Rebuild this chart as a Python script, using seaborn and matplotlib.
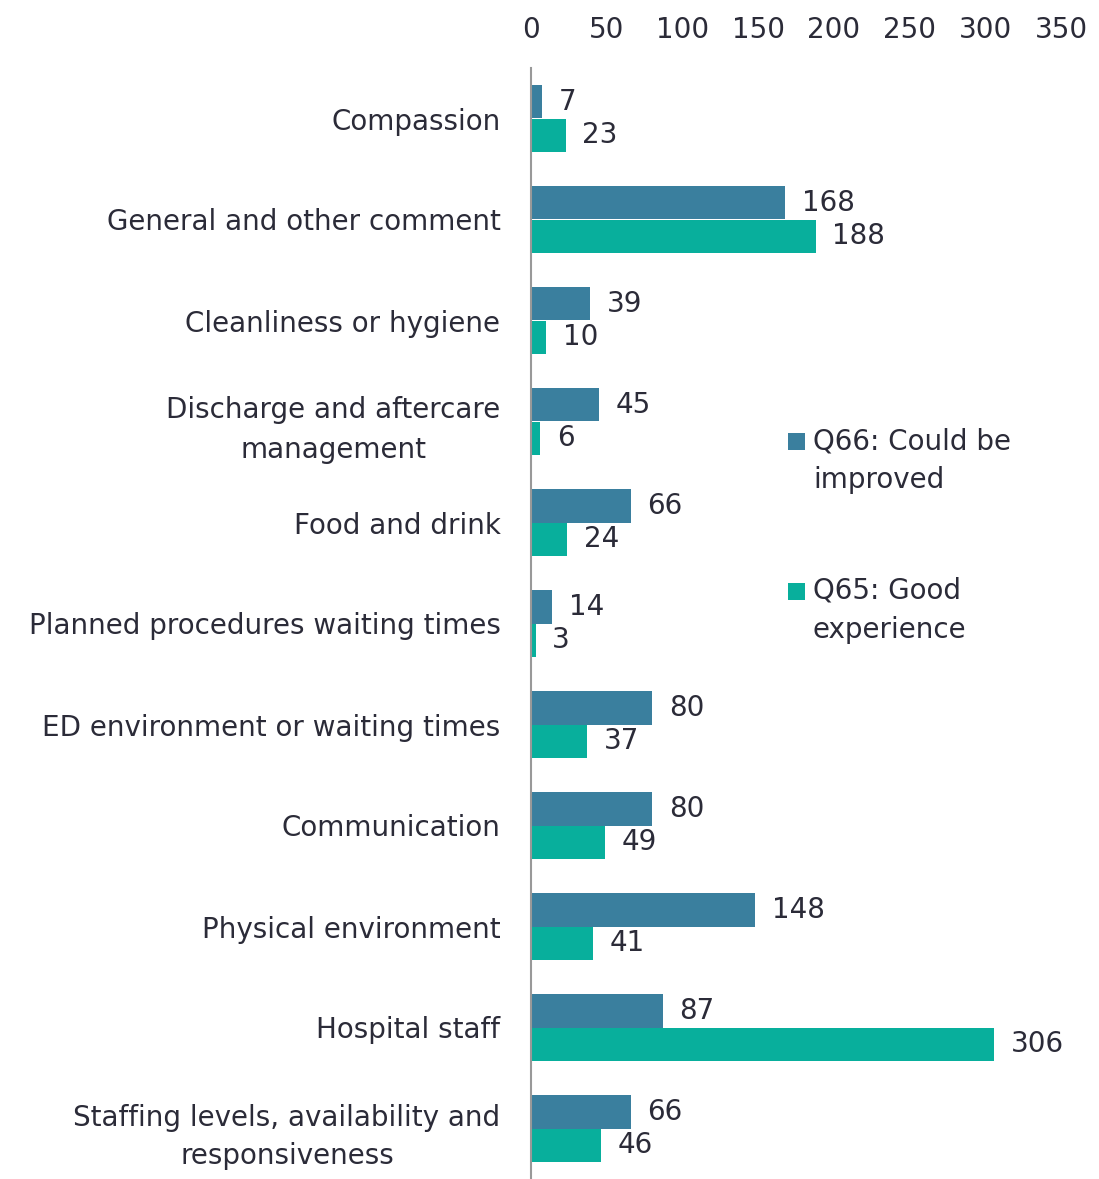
import matplotlib
matplotlib.use("Agg")
import matplotlib.pyplot as plt
import seaborn as sns
import pandas as pd
from matplotlib.patches import Rectangle

categories = [
    "Compassion",
    "General and other comment",
    "Cleanliness or hygiene",
    "Discharge and aftercare\nmanagement",
    "Food and drink",
    "Planned procedures waiting times",
    "ED environment or waiting times",
    "Communication",
    "Physical environment",
    "Hospital staff",
    "Staffing levels, availability and\nresponsiveness",
]
could_be_improved = [7, 168, 39, 45, 66, 14, 80, 80, 148, 87, 66]
good_experience = [23, 188, 10, 6, 24, 3, 37, 49, 41, 306, 46]
series_names = ["Q66: Could be\nimproved", "Q65: Good\nexperience"]
x_ticks = [0, 50, 100, 150, 200, 250, 300, 350]

colors = ["#3A7F9E", "#08AF9C"]
text_color = "#2B2B38"
FS = 20

df = pd.DataFrame({
    "category": categories * 2,
    "value": could_be_improved + good_experience,
    "series": [series_names[0]] * len(categories) + [series_names[1]] * len(categories),
})

sns.set_theme(style="white")
plt.rcParams["font.family"] = ["DejaVu Sans"]

W, H = 1099, 1179
fig = plt.figure(figsize=(W / 100, H / 100), dpi=100)
ax = fig.add_axes([531 / W, 0.0, (1061 - 531) / W, (H - 68) / H])

sns.barplot(data=df, y="category", x="value", hue="series", orient="h",
            palette=colors, width=0.67, ax=ax, legend=False, saturation=1,
            linewidth=0)

for cont in ax.containers:
    ax.bar_label(cont, padding=12, fontsize=FS, color=text_color)

ax.set_xlim(0, 350)
ax.set_ylim(len(categories) - 0.5, -0.5)
ax.set_xticks(x_ticks)
ax.xaxis.tick_top()
ax.tick_params(axis="x", length=0, pad=17, labelsize=FS, labelcolor=text_color)
ax.tick_params(axis="y", length=0, pad=22, labelsize=FS, labelcolor=text_color)
for lab in ax.get_yticklabels():
    lab.set_multialignment("center")
    lab.set_linespacing(1.5)
ax.set_xlabel("")
ax.set_ylabel("")
for s in ["top", "right", "bottom"]:
    ax.spines[s].set_visible(False)
ax.spines["left"].set_color("#999999")
ax.spines["left"].set_linewidth(1.5)

# legend (manual, first line aligned with marker)
legend_y = [441, 591]
for name, c, y in zip(series_names, colors, legend_y):
    fig.patches.append(Rectangle((788 / W, 1 - (y + 8.5) / H), 17 / W, 17 / H,
                                 transform=fig.transFigure, facecolor=c,
                                 edgecolor="none"))
    fig.text(813 / W, 1 - (y - 14) / H, name, ha="left", va="top",
             fontsize=FS, color=text_color, linespacing=1.5)

fig.savefig("out.png", dpi=100)
